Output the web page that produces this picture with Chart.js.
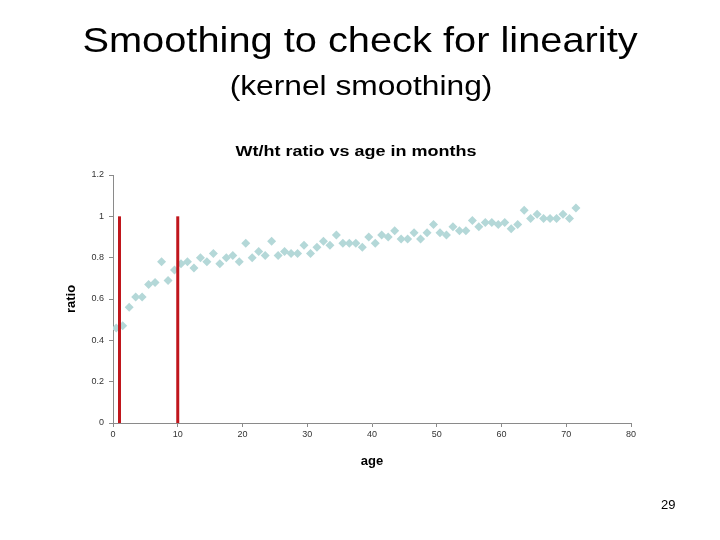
<!DOCTYPE html>
<html>
<head>
<meta charset="utf-8">
<script src="https://cdn.jsdelivr.net/npm/chart.js@4"></script>
<style>
    body { margin: 0; background: #fff; }
    #slide { position: relative; width: 720px; height: 540px; font-family: 'Liberation Sans', Arial, sans-serif; }
    #myChart { position: absolute; left: 0; top: 0; }
    .head { position: absolute; left: 0; width: 720px; text-align: center; color: #000; white-space: nowrap; transform-origin: 50% 50%; }
    #title { top: 20px; font-size: 35px; transform: scaleX(1.137); }
    #subtitle { top: 71px; left: 1px; font-size: 27px; transform: scaleX(1.175); }
    #chartTitle { top: 142px; left: -4px; font-size: 15px; font-weight: bold; transform: scaleX(1.2); }
    #pageNo { position: absolute; left: 661px; top: 497px; font-size: 13px; }
</style>
</head>
<body>
<div id="slide">
    <canvas id="myChart" width="720" height="540"></canvas>
    <div class="head" id="title">Smoothing to check for linearity</div>
    <div class="head" id="subtitle">(kernel smoothing)</div>
    <div class="head" id="chartTitle">Wt/ht ratio vs age in months</div>
    <div id="pageNo">29</div>
</div>
<script>
// Age in months (mid-points) and observed wt/ht ratio
const ages = [0.5, 1.5, 2.5, 3.5, 4.5, 5.5, 6.5, 7.5, 8.5, 9.5,
    10.5, 11.5, 12.5, 13.5, 14.5, 15.5, 16.5, 17.5, 18.5, 19.5,
    20.5, 21.5, 22.5, 23.5, 24.5, 25.5, 26.5, 27.5, 28.5, 29.5,
    30.5, 31.5, 32.5, 33.5, 34.5, 35.5, 36.5, 37.5, 38.5, 39.5,
    40.5, 41.5, 42.5, 43.5, 44.5, 45.5, 46.5, 47.5, 48.5, 49.5,
    50.5, 51.5, 52.5, 53.5, 54.5, 55.5, 56.5, 57.5, 58.5, 59.5,
    60.5, 61.5, 62.5, 63.5, 64.5, 65.5, 66.5, 67.5, 68.5, 69.5,
    70.5, 71.5];
const ratios = [0.46, 0.47, 0.56, 0.61, 0.61, 0.67, 0.68, 0.78, 0.69, 0.74,
    0.77, 0.78, 0.75, 0.80, 0.78, 0.82, 0.77, 0.80, 0.81, 0.78,
    0.87, 0.80, 0.83, 0.81, 0.88, 0.81, 0.83, 0.82, 0.82, 0.86,
    0.82, 0.85, 0.88, 0.86, 0.91, 0.87, 0.87, 0.87, 0.85, 0.90,
    0.87, 0.91, 0.90, 0.93, 0.89, 0.89, 0.92, 0.89, 0.92, 0.96,
    0.92, 0.91, 0.95, 0.93, 0.93, 0.98, 0.95, 0.97, 0.97, 0.96,
    0.97, 0.94, 0.96, 1.03, 0.99, 1.01, 0.99, 0.99, 0.99, 1.01,
    0.99, 1.04];

// Kernel window edges (vertical red bars)
const windowEdges = [1, 10];
const windowHeight = 1;

// Axis ticks
const xTicks = [0, 10, 20, 30, 40, 50, 60, 70, 80];
const yTicks = [0, 0.2, 0.4, 0.6, 0.8, 1, 1.2];

const points = ages.map((a, i) => ({ x: a, y: ratios[i] }));

const edgeSets = windowEdges.map(e => ({
    type: 'line',
    data: [{ x: e, y: 0 }, { x: e, y: windowHeight }],
    borderColor: '#c0161c',
    borderWidth: 3,
    pointRadius: 0,
    order: 0
}));

const axisGrey = '#8a8a8a';
const tickFont = { family: "'Liberation Sans', Arial, sans-serif", size: 9 };
const axisTitleFont = { family: "'Liberation Sans', Arial, sans-serif", size: 13, weight: 'bold' };

const ctx = document.getElementById('myChart').getContext('2d');
const myChart = new Chart(ctx, {
    type: 'scatter',
    data: {
        datasets: [{
            data: points,
            pointStyle: 'rectRot',
            pointRadius: 4.5,
            backgroundColor: '#b4d8d8',
            borderWidth: 0,
            order: 1
        }, ...edgeSets]
    },
    options: {
        responsive: false,
        animation: false,
        layout: { padding: { left: 60, right: 89, top: 175, bottom: 67 } },
        plugins: {
            legend: { display: false },
            tooltip: { enabled: false }
        },
        scales: {
            x: {
                type: 'linear',
                min: xTicks[0],
                max: xTicks[xTicks.length - 1],
                afterBuildTicks: s => { s.ticks = xTicks.map(v => ({ value: v })); },
                afterFit: s => { s.height = 50; },
                grid: { drawOnChartArea: false, color: axisGrey, tickLength: 4 },
                border: { color: axisGrey },
                ticks: { color: '#333', font: tickFont, padding: 2, maxRotation: 0 },
                title: { display: true, text: 'age', color: '#000', font: axisTitleFont, padding: { top: 6 } }
            },
            y: {
                min: yTicks[0],
                max: yTicks[yTicks.length - 1],
                afterBuildTicks: s => { s.ticks = yTicks.map(v => ({ value: v })); },
                afterFit: s => { s.width = 53; },
                grid: { drawOnChartArea: false, color: axisGrey, tickLength: 4 },
                border: { color: axisGrey },
                ticks: {
                    color: '#333',
                    font: tickFont,
                    padding: 5,
                    callback: v => String(Number(v.toFixed(1)))
                },
                title: { display: true, text: 'ratio', color: '#000', font: axisTitleFont, padding: { bottom: 6 } }
            }
        }
    }
});
</script>
</body>
</html>
